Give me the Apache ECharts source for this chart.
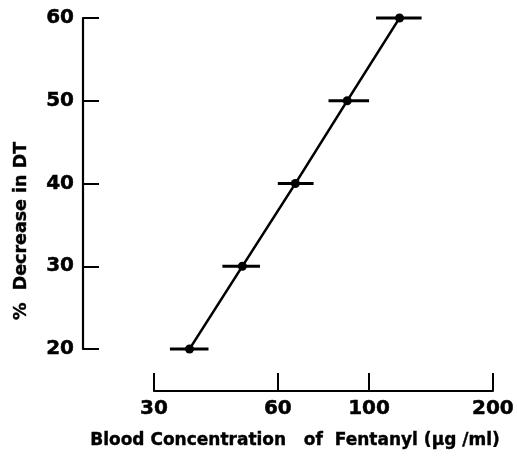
<!DOCTYPE html>
<html>
<head>
<meta charset="utf-8">
<script src="https://cdn.jsdelivr.net/npm/echarts@6/dist/echarts.min.js"></script>
<style>
html,body{margin:0;padding:0;background:#fff;}
#c{width:517px;height:457px;}
</style>
</head>
<body>
<div id="c"></div>
<script>
// Data
var concentration = [36.6, 49.2, 66.2, 88.5, 118.6];   // µg/ml (log x)
var decrease      = [20, 30, 40, 50, 60];              // % decrease in DT
var errLow        = [32.8, 44.0, 60.0, 79.7, 104.0];
var errHigh       = [40.7, 54.3, 73.3, 100.0, 134.2];
var xTicks        = [30, 60, 100, 200];
var yTicks        = [20, 30, 40, 50, 60];

var FONT = '"DejaVu Sans", Arial, sans-serif';

var pts = concentration.map(function (c, i) { return [c, decrease[i]]; });
var bars = decrease.map(function (d, i) { return [errLow[i], errHigh[i], d]; });

var chart = echarts.init(document.getElementById('c'), null, {renderer: 'canvas'});
chart.setOption({
  animation: false,
  backgroundColor: '#fff',
  grid: {left: 154, right: 21, top: 18, bottom: 108, containLabel: false},
  xAxis: {
    type: 'log',
    logBase: 10,
    min: 30,
    max: 200,
    offset: 42,
    axisLine: {show: true, lineStyle: {color: '#000', width: 2.2}},
    axisTick: {show: true, inside: true, length: 18, lineStyle: {color: '#000', width: 2},
               customValues: xTicks},
    axisLabel: {show: true, color: '#000', fontFamily: FONT, fontWeight: 'bold', fontSize: 20,
                margin: 8, customValues: xTicks,
                textBorderColor: '#000', textBorderWidth: 0.5,
                formatter: function (v) { return String(Math.round(v)); }},
    splitLine: {show: false},
    minorTick: {show: false}
  },
  yAxis: {
    type: 'value',
    min: 20,
    max: 60,
    interval: 10,
    offset: 71,
    axisLine: {show: true, lineStyle: {color: '#000', width: 2.2}},
    axisTick: {show: true, inside: true, length: 16, lineStyle: {color: '#000', width: 2}},
    axisLabel: {show: true, color: '#000', fontFamily: FONT, fontWeight: 'bold', fontSize: 20,
                margin: 9, customValues: yTicks,
                textBorderColor: '#000', textBorderWidth: 0.5},
    splitLine: {show: false}
  },
  graphic: [
    {type: 'text', left: 90, top: 432,
     style: {text: 'Blood Concentration   of  Fentanyl (\u03bcg /ml)', fill: '#000',
             font: 'bold 17px ' + FONT, stroke: '#000', lineWidth: 0.4}},
    {type: 'text', x: 21, y: 231, rotation: Math.PI / 2,
     style: {text: '%  Decrease in DT', fill: '#000', font: 'bold 17.5px ' + FONT,
             align: 'center', verticalAlign: 'middle', stroke: '#000', lineWidth: 0.4}}
  ],
  series: [
    {
      type: 'custom',
      renderItem: function (params, api) {
        var a = api.coord([api.value(0), api.value(2)]);
        var b = api.coord([api.value(1), api.value(2)]);
        return {type: 'line', shape: {x1: a[0], y1: a[1], x2: b[0], y2: b[1]},
                style: {stroke: '#000', lineWidth: 2.8}};
      },
      encode: {x: [0, 1], y: 2},
      data: bars,
      z: 2
    },
    {
      type: 'line',
      data: pts,
      symbol: 'circle',
      symbolSize: 9,
      showSymbol: true,
      itemStyle: {color: '#000'},
      lineStyle: {color: '#000', width: 2.4},
      z: 3
    }
  ]
});
</script>
</body>
</html>
